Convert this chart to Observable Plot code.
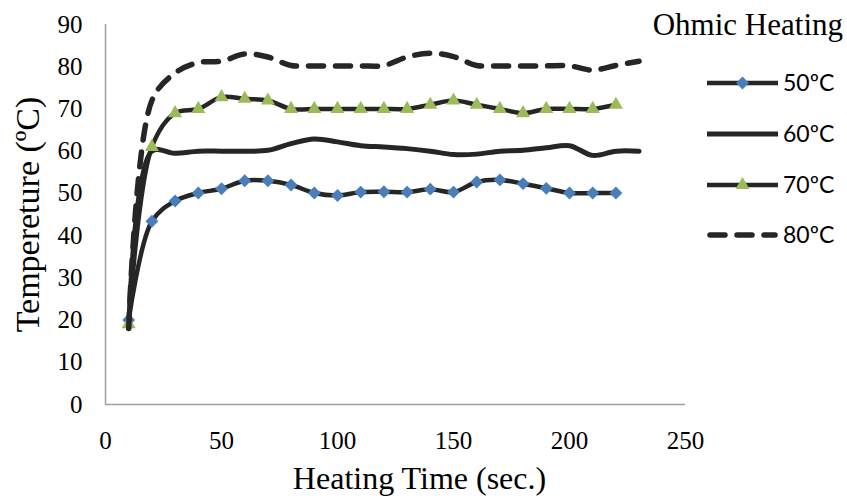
<!DOCTYPE html>
<html><head><meta charset="utf-8">
<script src="https://cdn.jsdelivr.net/npm/d3@7"></script>
<script src="https://cdn.jsdelivr.net/npm/@observablehq/plot@0.6"></script>
<style>
body{margin:0;background:#fff}
#wrap{position:relative;width:847px;height:504px;overflow:hidden}
#legend{position:absolute;left:0;top:0;pointer-events:none}
</style>
</head><body><div id="wrap"></div>
<script>
// Data
const timeMarked = [10,20,30,40,50,60,70,80,90,100,110,120,130,140,150,160,170,180,190,200,210,220];
const timeFull   = [10,20,30,40,50,60,70,80,90,100,110,120,130,140,150,160,170,180,190,200,210,220,230];
const temp50 = [20,43.4,48.2,50.1,51.1,53,53,52,50.1,49.5,50.3,50.4,50.3,51,50.3,52.7,53.2,52.3,51.2,50.1,50.1,50.1];
const temp60 = [18,60,59.5,60,60,60,60.2,61.8,62.9,62.2,61.3,61,60.6,60,59.2,59.3,60,60.2,60.8,61.3,59,60,60];
const temp70 = [19,61,69,70,72.8,72.4,72,70,70,70,70,70,70,71,72,71,70,69,70,70,70,71];
const temp80 = [18,72,78.5,81,81.3,83,82.3,80.3,80.2,80.2,80.2,80.3,82.3,83.2,82.4,80.3,80.2,80.2,80.2,80.2,79.2,80.3,81.3];
const seriesNames = ["50ºC","60ºC","70ºC","80ºC"];
const xTicks = [0,50,100,150,200,250];
const yTicks = [0,10,20,30,40,50,60,70,80,90];
const xLabel = "Heating Time (sec.)";
const yLabel = "Tempereture (ºC)";
const legendTitle = "Ohmic Heating";

const rows = (t, v, s) => t.map((x, i) => ({time: x, temp: v[i], series: s}));
const d50 = rows(timeMarked, temp50, seriesNames[0]);
const d60 = rows(timeFull, temp60, seriesNames[1]);
const d70 = rows(timeMarked, temp70, seriesNames[2]);
const d80 = rows(timeFull, temp80, seriesNames[3]);

const LINE = "#262626", BLUE = "#4a7ebb", GREEN = "#9bbb59", AXIS = "#a0a0a0";
const SERIF = "'Liberation Serif', 'Times New Roman', serif";
const DASH = "15,12";

const chart = Plot.plot({
  width: 847, height: 504,
  marginLeft: 105, marginRight: 162, marginTop: 24, marginBottom: 100,
  style: {fontFamily: SERIF, fontSize: "25px", color: "#000", background: "#fff"},
  x: {domain: [0, 250]},
  y: {domain: [0, 90]},
  marks: [
    Plot.axisX({ticks: xTicks, tickSize: 0, tickPadding: 27, label: null, fontSize: 25}),
    Plot.axisY({ticks: yTicks, tickSize: 0, tickPadding: 23, label: null, fontSize: 25}),
    Plot.ruleX([0], {stroke: AXIS, strokeWidth: 1.5}),
    Plot.ruleY([0], {stroke: AXIS, strokeWidth: 1.5}),
    Plot.line(d50, {x: "time", y: "temp", stroke: LINE, strokeWidth: 4.5, curve: "catmull-rom"}),
    Plot.dot(d50, {x: "time", y: "temp", symbol: "diamond2", r: 5.8, fill: BLUE, stroke: "none"}),
    Plot.line(d60, {x: "time", y: "temp", stroke: LINE, strokeWidth: 5, curve: "catmull-rom"}),
    Plot.line(d70, {x: "time", y: "temp", stroke: LINE, strokeWidth: 4.5, curve: "catmull-rom"}),
    Plot.dot(d70, {x: "time", y: "temp", symbol: "triangle", r: 5.2, fill: GREEN, stroke: "none"}),
    Plot.line(d80, {x: "time", y: "temp", stroke: LINE, strokeWidth: 5.5, curve: "catmull-rom",
      strokeDasharray: DASH, strokeLinecap: "round"}),
    Plot.text([xLabel], {frameAnchor: "bottom", textAnchor: "middle", dx: 24, dy: 84, fontSize: 32, fill: "#000"}),
    Plot.text([yLabel], {frameAnchor: "left", textAnchor: "middle", rotate: -90, dx: -77, fontSize: 34, fill: "#000"})
  ]
});
const wrap = document.getElementById("wrap");
wrap.appendChild(chart);

// Legend overlay
const lg = d3.select(wrap).append("svg").attr("id", "legend").attr("width", 847).attr("height", 504);
lg.append("text").attr("x", 843).attr("y", 35).attr("text-anchor", "end")
  .attr("font-family", SERIF).attr("font-size", 31).attr("fill", "#000").text(legendTitle);
const rowY = [83, 134, 185, 235];
const x0 = 707, x1 = 778, xm = (x0 + x1) / 2;
seriesNames.forEach((name, i) => {
  const y = rowY[i];
  const ln = lg.append("line").attr("x1", x0 + (i === 3 ? 3 : 0)).attr("x2", x1 - (i === 3 ? 3 : 0))
    .attr("y1", y).attr("y2", y).attr("stroke", LINE)
    .attr("stroke-width", i === 3 ? 5.5 : i === 1 ? 5 : 4.5);
  if (i === 3) ln.attr("stroke-dasharray", DASH).attr("stroke-linecap", "round");
  if (i === 0) lg.append("path").attr("d", d3.symbol(d3.symbolDiamond2, Math.PI * 5.8 * 5.8)())
    .attr("transform", `translate(${xm},${y})`).attr("fill", BLUE);
  if (i === 2) lg.append("path").attr("d", d3.symbol(d3.symbolTriangle, Math.PI * 5.2 * 5.2)())
    .attr("transform", `translate(${xm},${y})`).attr("fill", GREEN);
  lg.append("text").attr("x", 783).attr("y", y).attr("dy", "0.35em")
    .attr("font-family", "Lato, 'Open Sans', sans-serif").attr("font-size", 23).attr("fill", "#000").text(name);
});
</script>
</body></html>
